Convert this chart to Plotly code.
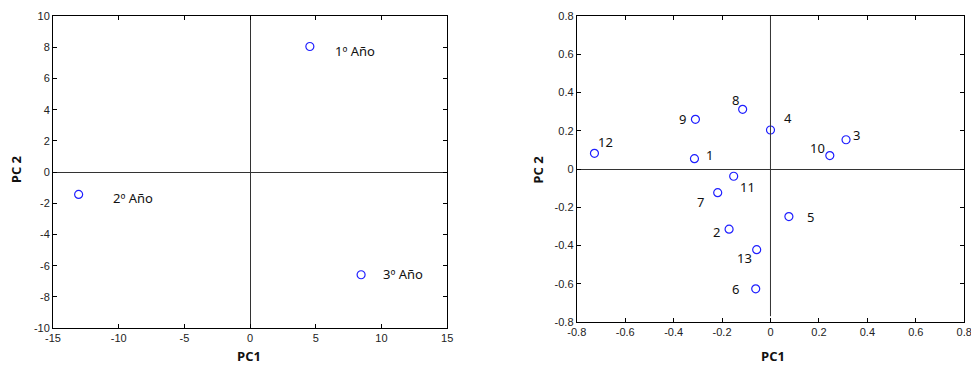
import plotly.graph_objects as go

# panel izquierdo: scores por año
anios = ['1º Año', '2º Año', '3º Año']
pc1_anios = [4.55, -13.05, 8.45]
pc2_anios = [8.05, -1.43, -6.58]

# panel derecho: loadings de las variables
variables = ['1', '2', '3', '4', '5', '6', '7', '8', '9', '10', '11', '12', '13']
pc1_vars = [-0.314, -0.171, 0.312, 0.0, 0.076, -0.061, -0.218, -0.115, -0.310, 0.245, -0.152, -0.727, -0.057]
pc2_vars = [0.054, -0.315, 0.153, 0.204, -0.249, -0.627, -0.124, 0.312, 0.260, 0.070, -0.038, 0.082, -0.422]

# ticks (con guion normal, como en el original)
ticks_x1 = [-15, -10, -5, 0, 5, 10, 15]
ticks_y1 = [-10, -8, -6, -4, -2, 0, 2, 4, 6, 8, 10]
ticks_2 = [-0.8, -0.6, -0.4, -0.2, 0, 0.2, 0.4, 0.6, 0.8]
txt_x1 = ['-15', '-10', '-5', '0', '5', '10', '15']
txt_y1 = ['-10', '-8', '-6', '-4', '-2', '0', '2', '4', '6', '8', '10']
txt_2 = ['-0.8', '-0.6', '-0.4', '-0.2', '0', '0.2', '0.4', '0.6', '0.8']

# desplazamiento de las etiquetas en pixeles
off_anios = [(45, -5), (54, -4), (42, 1)]
off_vars = [(15, 4), (-13, -3), (10, 5), (18, 12), (22, 0), (-20, 0), (-17, -9),
            (-7, 9), (-13, 0), (-12, 8), (14, -11), (11, 11), (-12, -8)]

azul = '#1f1fff'
fuente_tick = dict(family='Liberation Sans, Arial', size=11, color='#222')
fuente_lbl = dict(family='Noto Sans', size=13, color='#111')

fig = go.Figure()
fig.add_trace(go.Scatter(x=pc1_anios, y=pc2_anios, mode='markers', xaxis='x', yaxis='y',
                         marker=dict(symbol='circle-open', size=8, color=azul, line=dict(width=1.2))))
fig.add_trace(go.Scatter(x=pc1_vars, y=pc2_vars, mode='markers', xaxis='x2', yaxis='y2',
                         marker=dict(symbol='circle-open', size=8, color=azul, line=dict(width=1.2))))

anots = []
for t, x, y, (dx, dy) in zip(anios, pc1_anios, pc2_anios, off_anios):
    anots.append(dict(x=x, y=y, xref='x', yref='y', text=t, showarrow=False,
                      xshift=dx, yshift=dy, font=fuente_lbl))
for t, x, y, (dx, dy) in zip(variables, pc1_vars, pc2_vars, off_vars):
    anots.append(dict(x=x, y=y, xref='x2', yref='y2', text=t, showarrow=False,
                      xshift=dx, yshift=dy, font=fuente_lbl))

fuente_tit = dict(family='Open Sans', size=13, color='#111')
anots += [
    dict(x=0.256, y=0.0, xref='paper', yref='paper', text='<b>PC1</b>', showarrow=False,
         xanchor='center', yanchor='bottom', yshift=-2, font=fuente_tit),
    dict(x=0.796, y=0.0, xref='paper', yref='paper', text='<b>PC1</b>', showarrow=False,
         xanchor='center', yanchor='bottom', yshift=-2, font=fuente_tit),
    dict(x=0.016, y=0.535, xref='paper', yref='paper', text='<b>PC 2</b>', showarrow=False,
         xanchor='center', yanchor='middle', textangle=-90, font=fuente_tit),
    dict(x=0.554, y=0.535, xref='paper', yref='paper', text='<b>PC 2</b>', showarrow=False,
         xanchor='center', yanchor='middle', textangle=-90, font=fuente_tit),
]

eje = dict(showgrid=False, showline=True, linecolor='black', linewidth=1, mirror='ticks',
           ticks='inside', ticklen=4, tickcolor='black', tickfont=fuente_tick, automargin=False)

fig.update_layout(
    width=971, height=365,
    margin=dict(l=0, r=0, t=0, b=0),
    paper_bgcolor='white', plot_bgcolor='white',
    showlegend=False,
    xaxis=dict(eje, domain=[0.0546, 0.4605], range=[-15, 15], tickvals=ticks_x1, ticktext=txt_x1,
               zeroline=True, zerolinecolor='#333', zerolinewidth=1),
    yaxis=dict(eje, domain=[0.101, 0.956], range=[-10, 10], tickvals=ticks_y1, ticktext=txt_y1,
               zeroline=True, zerolinecolor='#333', zerolinewidth=1),
    xaxis2=dict(eje, domain=[0.594, 0.993], range=[-0.8, 0.8], tickvals=ticks_2, ticktext=txt_2,
                anchor='y2', zeroline=False, ticklabeloverflow='allow'),
    yaxis2=dict(eje, domain=[0.118, 0.956], range=[-0.8, 0.8], tickvals=ticks_2, ticktext=txt_2,
                anchor='x2', zeroline=True, zerolinecolor='#333', zerolinewidth=1),
    annotations=anots,
    shapes=[dict(type='line', xref='x2', yref='y2', x0=0, x1=0, y0=-0.77, y1=0.8,
                 line=dict(color='#333', width=1))],
)

# quitar el margen del body para que la figura ocupe la ventana entera
fig.write_html('out.html', config={'displayModeBar': False},
               post_script="document.body.style.margin='0';")
